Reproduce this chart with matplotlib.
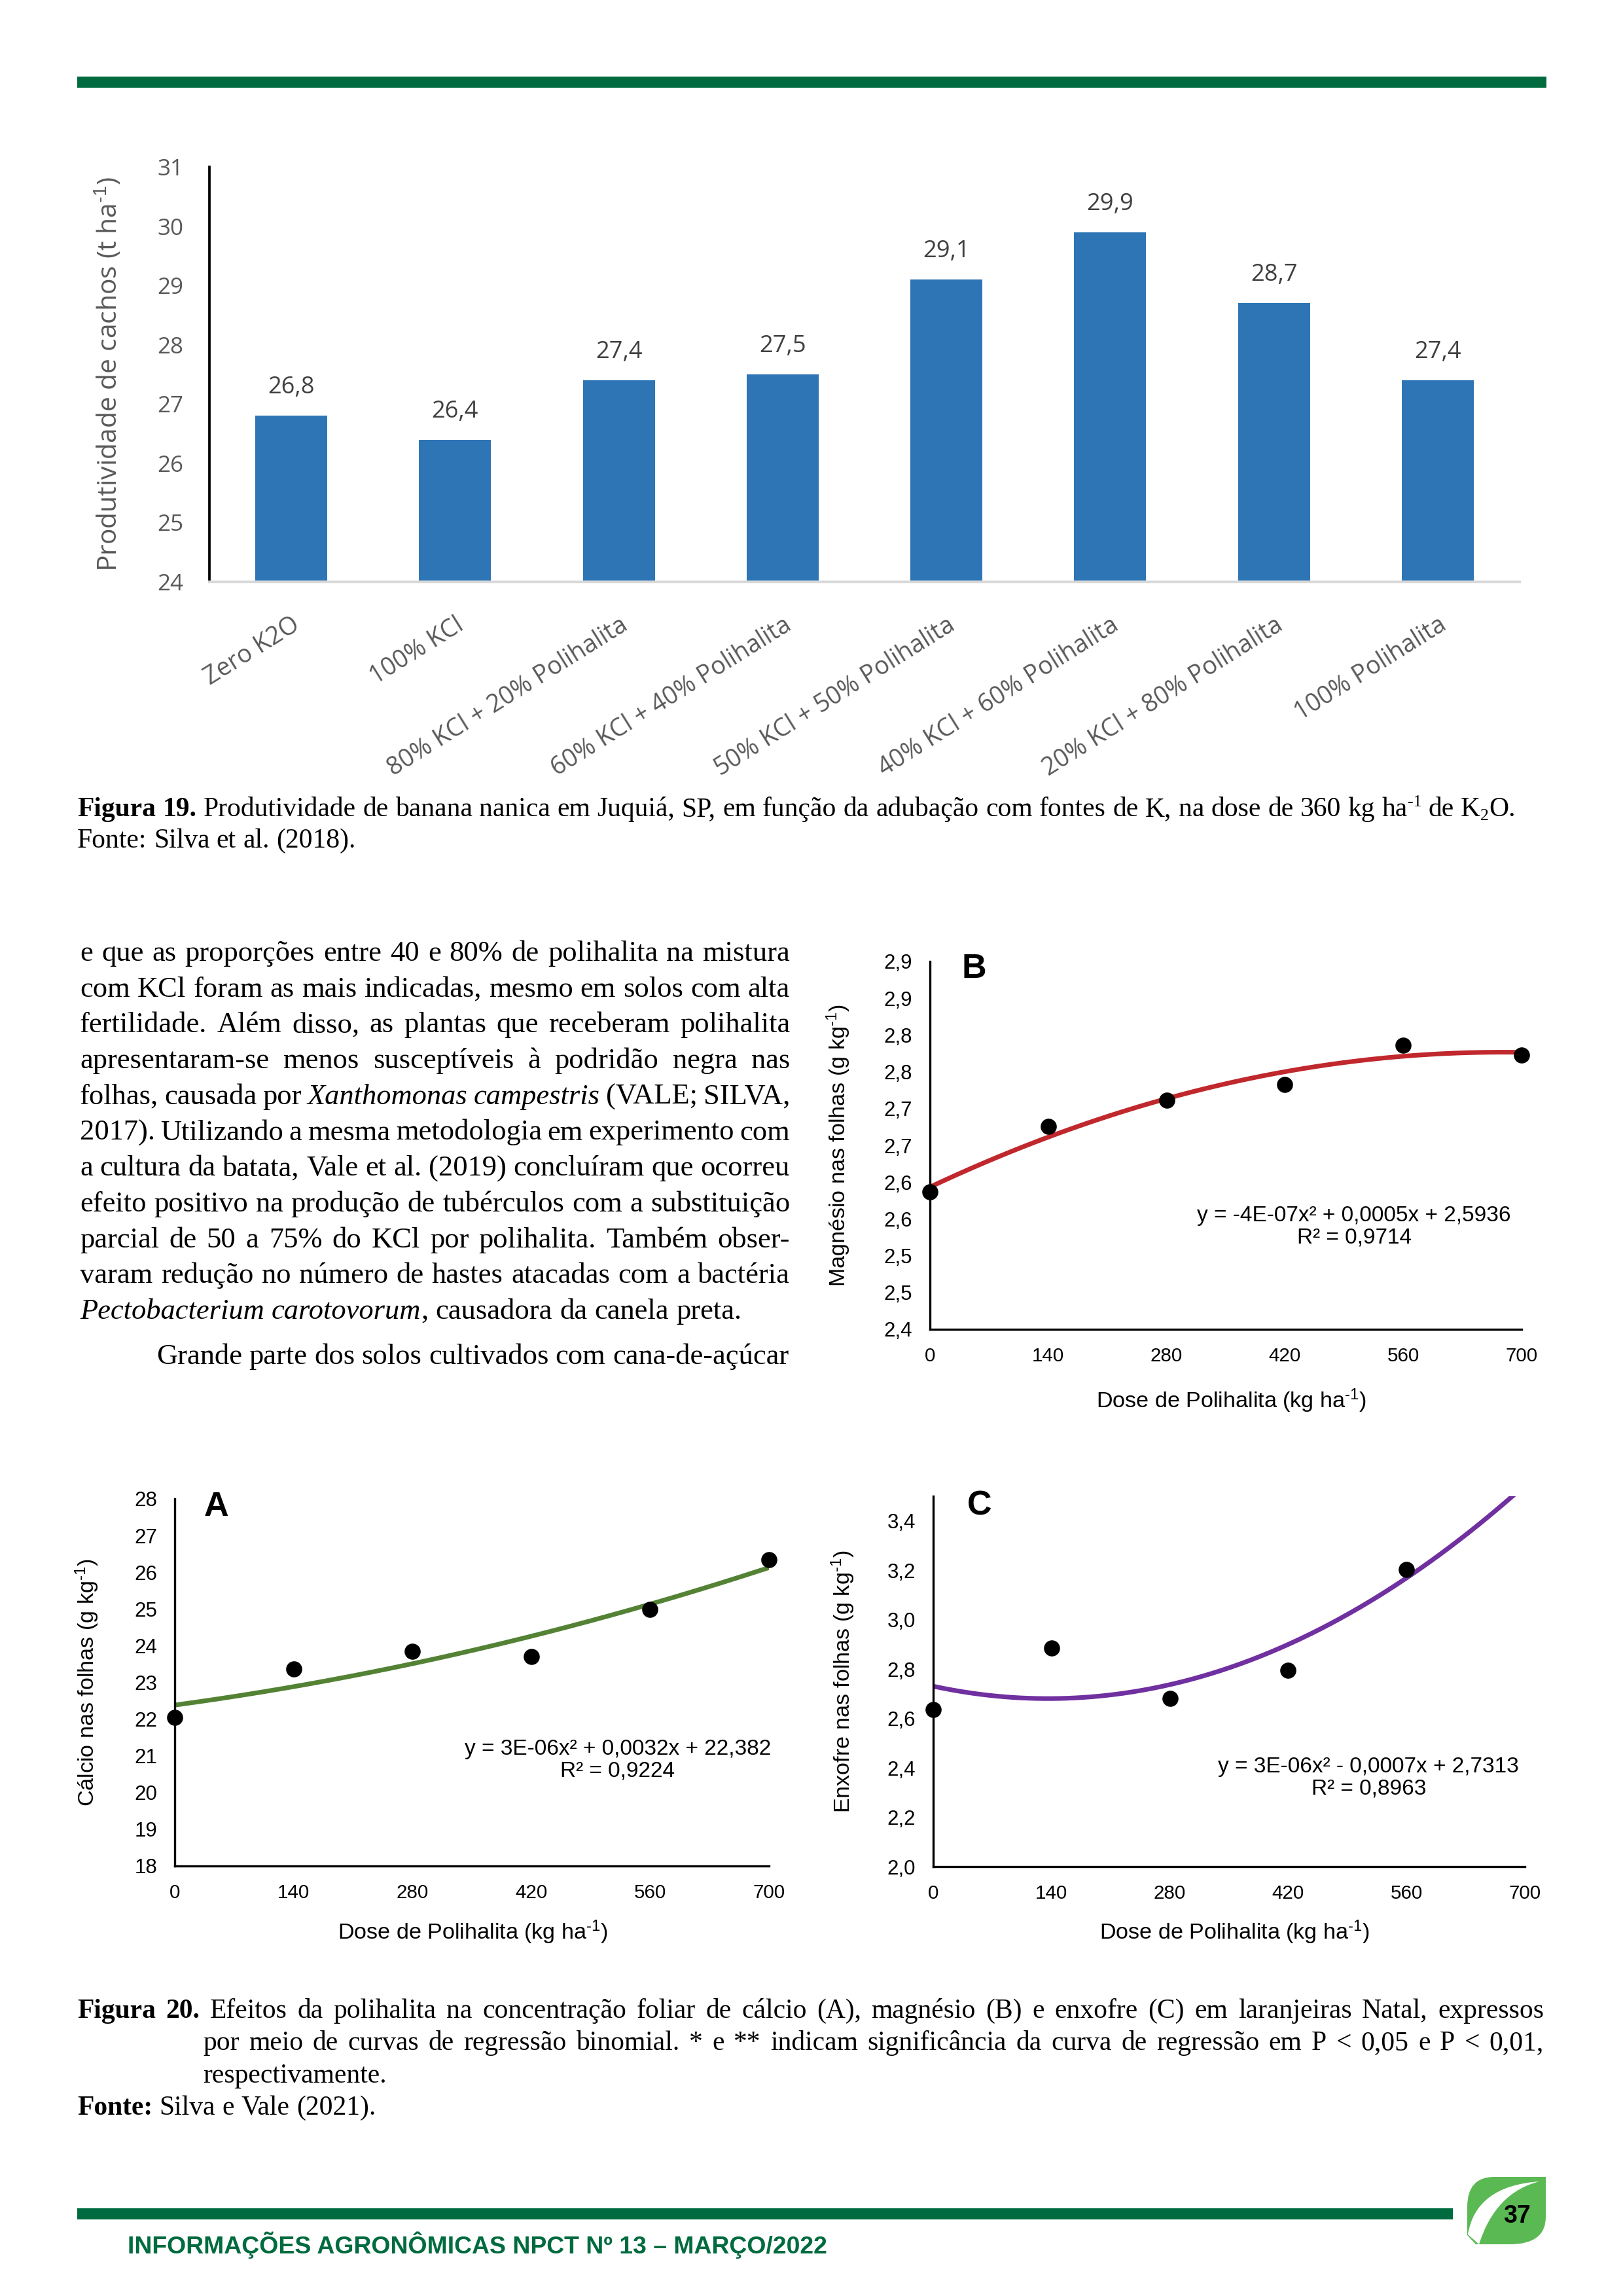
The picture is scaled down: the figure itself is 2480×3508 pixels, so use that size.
import numpy as np
import matplotlib
matplotlib.use("Agg")
import matplotlib.pyplot as plt
from matplotlib.path import Path
from matplotlib.patches import PathPatch, Rectangle
from matplotlib.transforms import Bbox, TransformedBbox

# pagina A4 a 300 dpi
W, H, DPI = 2480, 3508, 300
SANS = "Liberation Sans"
SERIF = "Liberation Serif"
BAR_FONT = "Open Sans"
VERDE = "#006B3F"

plt.rcParams["mathtext.fontset"] = "custom"
plt.rcParams["mathtext.rm"] = "Liberation Sans"
plt.rcParams["mathtext.it"] = "Liberation Sans:italic"
plt.rcParams["mathtext.bf"] = "Liberation Sans:bold"

# ---------------- dados: Figura 19
tratamentos = ["Zero K2O", "100% KCl", "80% KCl + 20% Polihalita",
               "60% KCl + 40% Polihalita", "50% KCl + 50% Polihalita",
               "40% KCl + 60% Polihalita", "20% KCl + 80% Polihalita",
               "100% Polihalita"]
produtividade = [26.8, 26.4, 27.4, 27.5, 29.1, 29.9, 28.7, 27.4]
prod_ticks = [24, 25, 26, 27, 28, 29, 30, 31]

# ---------------- dados: Figura 20
dose = [0, 140, 280, 420, 560, 700]
calcio = [22.05, 23.36, 23.85, 23.70, 24.98, 26.35]
magnesio = [2.587, 2.676, 2.711, 2.733, 2.786, 2.773]
enxofre = [2.635, 2.885, 2.681, 2.796, 3.204, 3.56]

calcio_ticks = [18, 19, 20, 21, 22, 23, 24, 25, 26, 27, 28]
calcio_labels = [str(t) for t in calcio_ticks]
magnesio_ticks = [2.40, 2.45, 2.50, 2.55, 2.60, 2.65, 2.70, 2.75, 2.80, 2.85, 2.90]
magnesio_labels = ["2,4", "2,5", "2,5", "2,6", "2,6", "2,7", "2,7", "2,8", "2,8", "2,9", "2,9"]
enxofre_ticks = [2.0, 2.2, 2.4, 2.6, 2.8, 3.0, 3.2, 3.4]
enxofre_labels = ["2,0", "2,2", "2,4", "2,6", "2,8", "3,0", "3,2", "3,4"]

eq_calcio = "y = 3E-06x² + 0,0032x + 22,382\nR² = 0,9224"
eq_magnesio = "y = -4E-07x² + 0,0005x + 2,5936\nR² = 0,9714"
eq_enxofre = "y = 3E-06x² - 0,0007x + 2,7313\nR² = 0,8963"

SUP = r"$^{\text{-1}}$"

# ---------------- textos da pagina
corpo = [
    "e que as proporções entre 40 e 80% de polihalita na mistura",
    "com KCl foram as mais indicadas, mesmo em solos com alta",
    "fertilidade. Além disso, as plantas que receberam polihalita",
    "apresentaram-se menos susceptíveis à podridão negra nas",
    "folhas, causada por _Xanthomonas campestris_ (VALE; SILVA,",
    "2017). Utilizando a mesma metodologia em experimento com",
    "a cultura da batata, Vale et al. (2019) concluíram que ocorreu",
    "efeito positivo na produção de tubérculos com a substituição",
    "parcial de 50 a 75% do KCl por polihalita. Também obser-",
    "varam redução no número de hastes atacadas com a bactéria",
    "_Pectobacterium carotovorum_, causadora da canela preta.",
    "Grande parte dos solos cultivados com cana-de-açúcar",
]
legenda19 = [("Figura 19.", "b"),
             (" Produtividade de banana nanica em Juquiá, SP, em função da adubação "
              "com fontes de K, na dose de 360 kg ha", "n"),
             ("-1", "sup"), (" de K", "n"), ("2", "sub"), ("O.", "n")]
fonte19 = [("Fonte: Silva et al. (2018).", "n")]
legenda20 = [
    [("Figura 20.", "b"),
     (" Efeitos da polihalita na concentração foliar de cálcio (A), magnésio (B) "
      "e enxofre (C) em laranjeiras Natal, expressos", "n")],
    [("por meio de curvas de regressão binomial. * e ** indicam significância "
      "da curva de regressão em P < 0,05 e P < 0,01,", "n")],
    [("respectivamente.", "n")],
]
fonte20 = [("Fonte:", "b"), (" Silva e Vale (2021).", "n")]
rodape = "INFORMAÇÕES AGRONÔMICAS NPCT Nº 13 – MARÇO/2022"
pagina = "37"


def rect(x0, y0, x1, y1):
    return [x0 / W, 1 - y1 / H, (x1 - x0) / W, (y1 - y0) / H]


fig = plt.figure(figsize=(W / DPI, H / DPI), dpi=DPI)
fig.patch.set_facecolor("white")
page = fig.add_axes([0, 0, 1, 1])
page.set_xlim(0, W)
page.set_ylim(H, 0)
page.axis("off")
R = fig.canvas.get_renderer()


def medir(s, kw):
    t = page.text(0, 0, s, **kw)
    w = t.get_window_extent(R).width
    t.remove()
    return w


def estilo(st, fs, family):
    kw = dict(fontfamily=family, fontsize=fs * (0.62 if st in ("sup", "sub") else 1))
    if st == "b":
        kw["fontweight"] = "bold"
    if st == "i":
        kw["fontstyle"] = "italic"
    return kw


def palavras(runs):
    words = [[]]
    for text, st in runs:
        for i, p in enumerate(text.split(" ")):
            if i > 0:
                words.append([])
            if p:
                words[-1].append((p, st))
    return [w for w in words if w]


def espaco(fs, family):
    kw = estilo("n", fs, family)
    return medir("n n", kw) - medir("nn", kw)


def largura_natural(runs, fs, family):
    ws = palavras(runs)
    return (sum(medir(p, estilo(st, fs, family)) for w in ws for p, st in w)
            + espaco(fs, family) * (len(ws) - 1))


def linha(runs, x0, y, fs, family=SERIF, color="black", largura=None):
    ws = palavras(runs)
    larg = [[medir(p, estilo(st, fs, family)) for p, st in w] for w in ws]
    total = sum(sum(l) for l in larg)
    if largura is None or len(ws) < 2:
        gap = espaco(fs, family)
    else:
        gap = (largura - total) / (len(ws) - 1)
    px = fs * DPI / 72
    x = x0
    for w, l in zip(ws, larg):
        for (p, st), lw in zip(w, l):
            dy = -0.36 * px if st == "sup" else (0.14 * px if st == "sub" else 0)
            page.text(x, y + dy, p, ha="left", va="baseline", color=color,
                      **estilo(st, fs, family))
            x += lw
        x += gap


def italico(s):
    return [(p, "i" if k % 2 else "n") for k, p in enumerate(s.split("_")) if p]


# ---------------- faixas verdes e folha
page.add_patch(Rectangle((118, 117), 2245, 17, color=VERDE, lw=0))
page.add_patch(Rectangle((118, 3374), 2102, 17, color=VERDE, lw=0))
folha = Path([(2362, 3326), (2283, 3326), (2242, 3326), (2242, 3372), (2242, 3415),
              (2255, 3429), (2307, 3429), (2362, 3429), (2362, 3387), (2362, 3326)],
             [Path.MOVETO, Path.LINETO, Path.CURVE3, Path.CURVE3, Path.LINETO,
              Path.LINETO, Path.LINETO, Path.CURVE3, Path.CURVE3, Path.CLOSEPOLY])
page.add_patch(PathPatch(folha, fc="#5BB954", ec="none"))
faixa = Path([(2243, 3414), (2255, 3340), (2352, 3333), (2285, 3350), (2260, 3429), (2243, 3414)],
             [Path.MOVETO, Path.CURVE3, Path.CURVE3, Path.CURVE3, Path.CURVE3, Path.CLOSEPOLY])
page.add_patch(PathPatch(faixa, fc="white", ec="none"))
page.text(2318, 3386, pagina, ha="center", va="center", fontfamily=SANS,
          fontweight="bold", fontsize=9, color="black")

fs_rod = 9 * 1071 / medir(rodape, dict(fontfamily=SANS, fontweight="bold", fontsize=9))
page.text(195, 3443, rodape, ha="left", va="baseline", fontfamily=SANS,
          fontweight="bold", fontsize=fs_rod, color=VERDE)

# ---------------- legendas (Times)
fs_leg = 10 * (2315 - 118) / largura_natural(legenda19, 10, SERIF)
linha(legenda19, 118, 1247, fs_leg)
linha(fonte19, 118, 1295, fs_leg)
linha(legenda20[0], 118, 3083, fs_leg, largura=2359 - 118)
linha(legenda20[1], 310, 3132, fs_leg, largura=2359 - 310)
linha(legenda20[2], 310, 3182, fs_leg)
linha(fonte20, 118, 3231, fs_leg)

# ---------------- texto corrido
alvo = 1207 - 122
fs_txt = 10 * alvo / max(largura_natural(italico(s), 10, SERIF) for s in corpo[:10]) * 1.015
for k, s in enumerate(corpo[:11]):
    linha(italico(s), 122, 1468 + 54.7 * k, fs_txt,
          largura=None if k == 10 else alvo)
linha(italico(corpo[11]), 239, 2084, fs_txt, largura=1205 - 239)

# ---------------- Figura 19: barras
ax = fig.add_axes(rect(320, 255, 2322, 889))
xpos = np.arange(len(tratamentos))
ax.bar(xpos, produtividade, width=0.44, color="#2E75B6", zorder=2)
ax.set_xlim(-0.5, len(tratamentos) - 0.5)
ax.set_ylim(prod_ticks[0], prod_ticks[-1])
ax.set_yticks(prod_ticks, labels=[str(t) for t in prod_ticks],
              fontfamily=BAR_FONT, fontsize=8.4, color="#595959")
ax.set_xticks([])
ax.tick_params(axis="y", length=0, pad=9.5)
for s in ("top", "right"):
    ax.spines[s].set_visible(False)
ax.spines["left"].set_color("black")
ax.spines["left"].set_linewidth(0.9)
ax.spines["bottom"].set_color("#D9D9D9")
ax.spines["bottom"].set_linewidth(1.0)
for xi, v in zip(xpos, produtividade):
    ax.annotate(f"{v:.1f}".replace(".", ","), xy=(xi, v), xytext=(0, 10.3),
                textcoords="offset points", ha="center", va="center",
                fontfamily=BAR_FONT, fontsize=8.7, color="#404040")
for xi, nome in zip(xpos, tratamentos):
    ax.annotate(nome, xy=(xi, 0), xycoords=("data", "axes fraction"),
                xytext=(2.4, -15.1), textcoords="offset points",
                rotation=32, rotation_mode="anchor", ha="right", va="center",
                fontfamily=BAR_FONT, fontsize=9, color="#595959")
ax.set_ylabel("Produtividade de cachos (t ha" + SUP + ")", fontfamily=BAR_FONT,
              fontsize=9.8, color="#595959", va="center")
ax.yaxis.set_label_coords((166 - 320) / 2002, 0.5)


# ---------------- Figura 20: regressoes
def painel(box, y, cor, ylim, yticks, ylabels, ylabel, eq, letra,
           eq_pos, letra_pos, ylab_x, xlab_pos):
    a = fig.add_axes(rect(*box))
    coef = np.polyfit(dose, y, 2)
    xs = np.linspace(dose[0], dose[-1], 300)
    a.plot(xs, np.polyval(coef, xs), color=cor, lw=1.7, zorder=2)
    sc = a.scatter(dose, y, s=24, color="black", zorder=3)
    sc.set_clip_box(TransformedBbox(Bbox([[-0.05, -0.05], [1.05, 1.0]]), a.transAxes))
    a.set_xlim(dose[0], dose[-1])
    a.set_ylim(*ylim)
    a.set_xticks(dose, labels=[str(d) for d in dose], fontfamily=SANS, fontsize=7.1)
    a.set_yticks(yticks, labels=ylabels, fontfamily=SANS, fontsize=7.5)
    a.tick_params(length=0, pad=6.5)
    for s in ("top", "right"):
        a.spines[s].set_visible(False)
    for s in ("left", "bottom"):
        a.spines[s].set_linewidth(0.8)
    a.set_ylabel(ylabel, fontfamily=SANS, fontsize=8.2, va="center")
    a.yaxis.set_label_coords(ylab_x, 0.5)
    a.set_xlabel("Dose de Polihalita (kg ha" + SUP + ")", fontfamily=SANS,
                 fontsize=8.2, va="center")
    a.xaxis.set_label_coords(*xlab_pos)
    a.text(*eq_pos, eq, transform=a.transAxes, ha="center", va="center",
           multialignment="center", fontfamily=SANS, fontsize=8.0, linespacing=1.1)
    a.text(*letra_pos, letra, transform=a.transAxes, ha="center", va="center",
           fontfamily=SANS, fontweight="bold", fontsize=12.5)
    return a


painel((1421, 1469, 2325, 2031), magnesio, "#C0282D", (2.4, 2.9),
       magnesio_ticks, magnesio_labels, "Magnésio nas folhas (g kg" + SUP + ")",
       eq_magnesio, "B", (0.717, 0.279), (0.074, 0.980), -0.155, (0.509, -0.194))
painel((267, 2290, 1175, 2851), calcio, "#548235", (18, 28),
       calcio_ticks, calcio_labels, "Cálcio nas folhas (g kg" + SUP + ")",
       eq_calcio, "A", (0.7456, 0.289), (0.0705, 0.977), -0.1476, (0.502, -0.18))
painel((1426, 2286, 2330, 2852), enxofre, "#7030A0", (2.0, 3.5),
       enxofre_ticks, enxofre_labels, "Enxofre nas folhas (g kg" + SUP + ")",
       eq_enxofre, "C", (0.736, 0.240), (0.0785, 0.973), -0.1527, (0.51, -0.178))

fig.savefig("out.png", dpi=DPI, facecolor="white")
